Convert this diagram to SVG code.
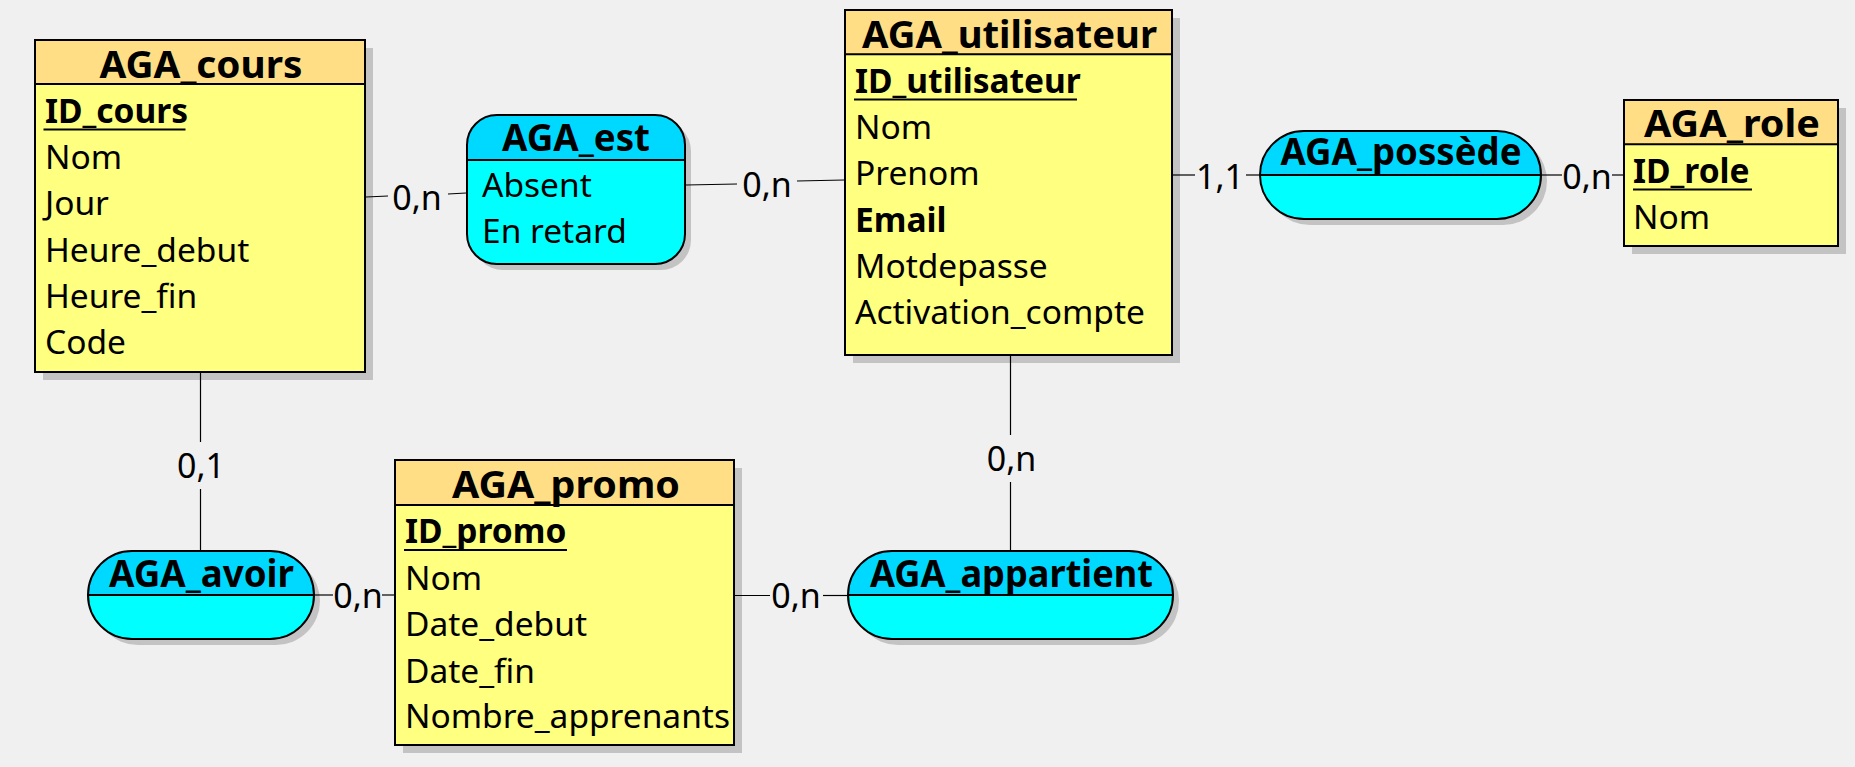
<svg xmlns="http://www.w3.org/2000/svg" width="1855" height="767" viewBox="0 0 1855 767">
<style>
text{font-family:"Noto Sans","Open Sans","Liberation Sans",sans-serif;fill:#000}
.t{font-size:37px;font-weight:bold;text-anchor:middle}
.a{font-size:33.5px}
.k{font-size:33.5px;font-weight:bold}
.c{font-size:34px;text-anchor:middle}
.sh{fill:#C3C3C3}
.eh{fill:#FFDE85}
.eb{fill:#FFFF80}
.rh{fill:#00D9FF}
.rb{fill:#00FFFF}
.o{fill:none;stroke:#000;stroke-width:2}
.ln{stroke:#000;stroke-width:2}
.cn line{stroke:#000;stroke-width:1.2}
</style>
<rect x="0" y="0" width="1855" height="767" fill="#F0F0F0"/>

<g id="AGA_cours">
<rect class="sh" x="43" y="48" width="330" height="332"/>
<rect class="eb" x="35" y="40" width="330" height="332"/>
<rect class="eh" x="35" y="40" width="330" height="44"/>
<line class="ln" x1="35" y1="84" x2="365" y2="84"/>
<rect class="o" x="35" y="40" width="330" height="332"/>
<text class="t" x="201" y="78" textLength="203" lengthAdjust="spacingAndGlyphs">AGA_cours</text>
<text class="k" x="45" y="122.7">ID_cours</text>
<line class="ln" x1="43.5" y1="129.5" x2="185.5" y2="129.5"/>
<text class="a" x="45" y="169.3">Nom</text>
<text class="a" x="45" y="215">Jour</text>
<text class="a" x="45" y="261.7">Heure_debut</text>
<text class="a" x="45" y="308">Heure_fin</text>
<text class="a" x="45" y="354">Code</text>
</g>

<g id="AGA_utilisateur">
<rect class="sh" x="853" y="18" width="327" height="345"/>
<rect class="eb" x="845" y="10" width="327" height="345"/>
<rect class="eh" x="845" y="10" width="327" height="44.3"/>
<line class="ln" x1="845" y1="54.3" x2="1172" y2="54.3"/>
<rect class="o" x="845" y="10" width="327" height="345"/>
<text class="t" x="1009.5" y="48.3" textLength="295" lengthAdjust="spacingAndGlyphs">AGA_utilisateur</text>
<text class="k" x="855" y="92.7">ID_utilisateur</text>
<line class="ln" x1="854" y1="99.5" x2="1077" y2="99.5"/>
<text class="a" x="855" y="139.3">Nom</text>
<text class="a" x="855" y="185">Prenom</text>
<text class="k" x="855" y="231.7">Email</text>
<text class="a" x="855" y="278.3">Motdepasse</text>
<text class="a" x="855" y="324">Activation_compte</text>
</g>

<g id="AGA_role">
<rect class="sh" x="1632" y="108" width="214" height="146"/>
<rect class="eb" x="1624" y="100" width="214" height="146"/>
<rect class="eh" x="1624" y="100" width="214" height="44.3"/>
<line class="ln" x1="1624" y1="144.3" x2="1838" y2="144.3"/>
<rect class="o" x="1624" y="100" width="214" height="146"/>
<text class="t" x="1732" y="136.7" textLength="176" lengthAdjust="spacingAndGlyphs">AGA_role</text>
<text class="k" x="1633" y="182.7">ID_role</text>
<line class="ln" x1="1633" y1="189.5" x2="1752" y2="189.5"/>
<text class="a" x="1633" y="229.3">Nom</text>
</g>

<g id="AGA_promo">
<rect class="sh" x="403" y="468" width="339" height="285"/>
<rect class="eb" x="395" y="460" width="339" height="285"/>
<rect class="eh" x="395" y="460" width="339" height="45"/>
<line class="ln" x1="395" y1="505" x2="734" y2="505"/>
<rect class="o" x="395" y="460" width="339" height="285"/>
<text class="t" x="566" y="498.3" textLength="228" lengthAdjust="spacingAndGlyphs">AGA_promo</text>
<text class="k" x="405" y="542.7">ID_promo</text>
<line class="ln" x1="404" y1="550" x2="567" y2="550"/>
<text class="a" x="405" y="590">Nom</text>
<text class="a" x="405" y="636">Date_debut</text>
<text class="a" x="405" y="682.7">Date_fin</text>
<text class="a" x="405" y="728.3">Nombre_apprenants</text>
</g>

<g id="AGA_est">
<rect class="sh" x="473" y="121" width="218" height="149" rx="30" ry="30"/>
<path class="rh" d="M497,115 H655 A30 30 0 0 1 685,145 V160 H467 V145 A30 30 0 0 1 497,115 Z"/>
<path class="rb" d="M467,160 H685 V234 A30 30 0 0 1 655,264 H497 A30 30 0 0 1 467,234 Z"/>
<line class="ln" x1="467" y1="160" x2="685" y2="160"/>
<rect class="o" x="467" y="115" width="218" height="149" rx="30" ry="30"/>
<text class="t" x="576" y="150.7" textLength="148" lengthAdjust="spacingAndGlyphs">AGA_est</text>
<text class="a" x="482" y="196.7">Absent</text>
<text class="a" x="482" y="243.3">En retard</text>
</g>

<g id="AGA_possede">
<rect class="sh" x="1266" y="137" width="281" height="88" rx="44" ry="44"/>
<path class="rh" d="M1304,131 H1497 A44 44 0 0 1 1541,175 H1260 A44 44 0 0 1 1304,131 Z"/>
<path class="rb" d="M1260,175 H1541 A44 44 0 0 1 1497,219 H1304 A44 44 0 0 1 1260,175 Z"/>
<line class="ln" x1="1260" y1="175" x2="1541" y2="175"/>
<rect class="o" x="1260" y="131" width="281" height="88" rx="44" ry="44"/>
<text class="t" x="1401" y="165" textLength="241" lengthAdjust="spacingAndGlyphs">AGA_possède</text>
</g>

<g id="AGA_avoir">
<rect class="sh" x="94" y="557" width="226" height="88" rx="44" ry="44"/>
<path class="rh" d="M132,551 H270 A44 44 0 0 1 314,595 H88 A44 44 0 0 1 132,551 Z"/>
<path class="rb" d="M88,595 H314 A44 44 0 0 1 270,639 H132 A44 44 0 0 1 88,595 Z"/>
<line class="ln" x1="88" y1="595" x2="314" y2="595"/>
<rect class="o" x="88" y="551" width="226" height="88" rx="44" ry="44"/>
<text class="t" x="201.5" y="586.7" textLength="185" lengthAdjust="spacingAndGlyphs">AGA_avoir</text>
</g>

<g id="AGA_appartient">
<rect class="sh" x="854" y="557" width="325" height="88" rx="44" ry="44"/>
<path class="rh" d="M892,551 H1129 A44 44 0 0 1 1173,595 H848 A44 44 0 0 1 892,551 Z"/>
<path class="rb" d="M848,595 H1173 A44 44 0 0 1 1129,639 H892 A44 44 0 0 1 848,595 Z"/>
<line class="ln" x1="848" y1="595" x2="1173" y2="595"/>
<rect class="o" x="848" y="551" width="325" height="88" rx="44" ry="44"/>
<text class="t" x="1011.5" y="586.7" textLength="283" lengthAdjust="spacingAndGlyphs">AGA_appartient</text>
</g>

<g id="connectors" class="cn">
<line x1="366" y1="197" x2="388" y2="196"/>
<line x1="448" y1="194" x2="466" y2="193"/>
<line x1="686" y1="185" x2="737" y2="184"/>
<line x1="797" y1="181" x2="844" y2="180"/>
<line x1="1173" y1="175" x2="1195" y2="175"/>
<line x1="1246" y1="175" x2="1259" y2="175"/>
<line x1="1542" y1="175" x2="1562" y2="175"/>
<line x1="1612" y1="175" x2="1623" y2="175"/>
<line x1="200.5" y1="373" x2="200.5" y2="442"/>
<line x1="200.5" y1="489" x2="200.5" y2="550"/>
<line x1="315" y1="595" x2="333" y2="595"/>
<line x1="382" y1="595" x2="394" y2="595"/>
<line x1="735" y1="595.5" x2="770" y2="595.5"/>
<line x1="823" y1="595.5" x2="847" y2="595.5"/>
<line x1="1010.5" y1="356" x2="1010.5" y2="435"/>
<line x1="1010.5" y1="482" x2="1010.5" y2="550"/>
<text class="c" x="417" y="210">0,n</text>
<text class="c" x="767" y="197">0,n</text>
<text class="c" x="1220" y="189">1,1</text>
<text class="c" x="1587" y="189">0,n</text>
<text class="c" x="201" y="478">0,1</text>
<text class="c" x="358" y="608">0,n</text>
<text class="c" x="796" y="608">0,n</text>
<text class="c" x="1011.5" y="471">0,n</text>
</g>
</svg>
